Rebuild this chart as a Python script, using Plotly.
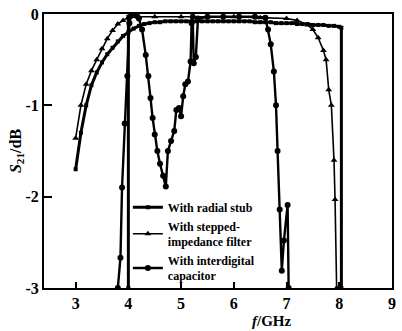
import plotly.graph_objects as go

# With radial stub (square markers)
radial_x = [3.0, 3.1, 3.2, 3.3, 3.4, 3.5, 3.6, 3.7, 3.8, 3.9, 4.0, 4.1, 4.2, 4.3, 4.4, 4.5,
            4.6, 4.7, 4.8, 4.9, 5.0, 5.1, 5.2, 5.3, 5.4, 5.5, 5.6, 5.7, 5.8, 5.9, 6.0,
            6.1, 6.2, 6.3, 6.4, 6.5, 6.6, 6.7, 6.8, 6.9, 7.0, 7.1, 7.2, 7.3, 7.4, 7.5,
            7.6, 7.7, 7.8, 7.9, 8.0, 8.04, 8.04, None, 4.0, 4.0]
radial_y = [-1.70, -1.30, -1.00, -0.78, -0.64, -0.53, -0.44, -0.37, -0.30, -0.24, -0.20,
            -0.16, -0.13, -0.11, -0.10, -0.09, -0.09, -0.08, -0.08, -0.08, -0.08, -0.08,
            -0.08, -0.08, -0.08, -0.08, -0.08, -0.08, -0.08, -0.08, -0.08, -0.08, -0.08,
            -0.08, -0.09, -0.09, -0.09, -0.09, -0.10, -0.10, -0.10, -0.10, -0.11, -0.11,
            -0.11, -0.12, -0.12, -0.12, -0.13, -0.13, -0.14, -0.15, -3.0, None, -3.0, -0.03]

# With stepped-impedance filter (triangle markers)
stepped_x = [3.0, 3.1, 3.2, 3.3, 3.4, 3.5, 3.6, 3.7, 3.8, 3.9, 4.0, 4.2, 4.5, 5.0, 5.5,
             6.0, 6.5, 7.0, 7.2, 7.4, 7.5, 7.6, 7.7, 7.75, 7.8, 7.85, 7.9, 7.92, 7.95]
stepped_y = [-1.36, -1.00, -0.77, -0.62, -0.50, -0.38, -0.27, -0.18, -0.11, -0.07, -0.04,
             -0.03, -0.03, -0.03, -0.03, -0.03, -0.04, -0.05, -0.07, -0.12, -0.17, -0.26,
             -0.40, -0.50, -0.83, -1.00, -1.60, -2.03, -3.0]

# With interdigital capacitor (dot markers)
inter_x = [3.8, 3.85, 3.88, 3.93, 3.98, 4.02, 4.05, 4.15, 4.2, 4.26, 4.33, 4.38, 4.42,
           4.46, 4.5, 4.55, 4.6, 4.66, 4.71, 4.75, 4.81, 4.87, 4.91, 4.96, 5.0, 5.04,
           5.08, 5.13, 5.18, 5.2, 5.22, 5.24, 5.28, 5.32, 5.5, 5.8, 6.1, 6.4, 6.6, 6.65,
           6.7, 6.76, 6.8, 6.83, 6.87, 6.91, 6.95, 7.02, 7.04]
inter_y = [-3.0, -2.67, -1.9, -1.2, -0.68, -0.1, -0.02, -0.02, -0.05, -0.17, -0.45, -0.68,
           -0.92, -1.14, -1.32, -1.5, -1.64, -1.77, -1.89, -1.5, -1.39, -1.28, -1.05, -1.03,
           -1.12, -0.9, -0.77, -0.74, -0.52, -0.1, -0.03, -0.54, -0.47, -0.05, -0.03, -0.03,
           -0.03, -0.03, -0.04, -0.17, -0.33, -0.63, -1.0, -1.5, -2.14, -2.81, -2.48, -2.09,
           -3.0]

x_ticks = [3, 4, 5, 6, 7, 8, 9]
y_ticks = [-3, -2, -1, 0]
y_ticktext = ["-3", "-2", "-1", "0"]

FONT = "Liberation Serif"

fig = go.Figure()
fig.add_trace(go.Scatter(
    x=radial_x, y=radial_y, mode="lines+markers", name="With radial stub",
    line=dict(color="black", width=3),
    marker=dict(symbol="square", size=4, color="black")))
fig.add_trace(go.Scatter(
    x=stepped_x, y=stepped_y, mode="lines+markers",
    name="With stepped-<br>impedance filter",
    line=dict(color="black", width=1.6),
    marker=dict(symbol="triangle-up", size=6, color="black")))
fig.add_trace(go.Scatter(
    x=inter_x, y=inter_y, mode="lines+markers",
    name="With interdigital<br>capacitor",
    line=dict(color="black", width=2.4),
    marker=dict(symbol="circle", size=6, color="black")))

fig.update_layout(
    width=402, height=331,
    margin=dict(l=44, r=6, t=12, b=43),
    paper_bgcolor="white", plot_bgcolor="white",
    font=dict(family=FONT, color="black", size=14),
    showlegend=True,
    legend=dict(x=0.241, y=0.348, xanchor="left", yanchor="top",
                bgcolor="rgba(0,0,0,0)",
                font=dict(family=FONT, size=12, color="black", weight="bold"),
                itemwidth=30, tracegroupgap=0, traceorder="normal"),
    annotations=[dict(
        text="<i>f</i>/GHz", xref="paper", yref="paper", x=0.655, y=-0.122,
        xanchor="center", yanchor="middle", showarrow=False,
        font=dict(family=FONT, size=15, color="black", weight="bold"))],
)
fig.update_xaxes(
    range=[2.4, 9.0], tickvals=x_ticks, ticks="inside", ticklen=6, tickwidth=2,
    tickcolor="black", showgrid=False, zeroline=False,
    showline=True, linecolor="black", linewidth=2, mirror=True,
    ticklabelstandoff=0,
    tickfont=dict(family=FONT, size=16, color="black", weight="bold"),
)
fig.update_yaxes(
    range=[-3.0, 0.0], tickvals=y_ticks, ticktext=y_ticktext, ticks="inside", ticklen=8,
    tickwidth=2, tickcolor="black", showgrid=False, zeroline=False,
    showline=True, linecolor="black", linewidth=2, mirror=True,
    tickfont=dict(family=FONT, size=16, color="black", weight="bold"),
    title=dict(text="<i>S</i><sub>21</sub>/dB", font=dict(family=FONT, size=16, color="black", weight="bold"), standoff=0),
)

fig.write_html("out.html")
